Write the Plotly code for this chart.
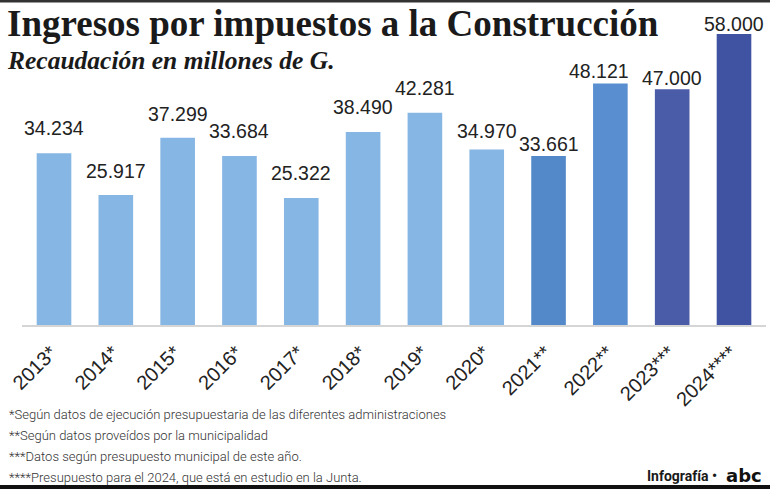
import plotly.graph_objects as go

categories = ["2013*", "2014*", "2015*", "2016*", "2017*", "2018*", "2019*", "2020*",
              "2021**", "2022**", "2023***", "2024****"]
values = [34234, 25917, 37299, 33684, 25322, 38490, 42281, 34970, 33661, 48121, 47000, 58000]
value_labels = ["34.234", "25.917", "37.299", "33.684", "25.322", "38.490", "42.281", "34.970",
                "33.661", "48.121", "47.000", "58.000"]
bar_colors = ["#86B6E3"] * 8 + ["#5389C9", "#598FD0", "#4A5BA8", "#3F53A2"]

title = "Ingresos por impuestos a la Construcción"
subtitle = "Recaudación en millones de G."
footnotes = [
    "*Según datos de ejecución presupuestaria de las diferentes administraciones",
    "**Según datos proveídos por la municipalidad",
    "***Datos según presupuesto municipal de este año.",
    "****Presupuesto para el 2024, que está en estudio en la Junta.",
]

# label placement offsets (pixels), as hand-placed in the original graphic
label_yshift = [12, 11, 11, 12, 12, 12, 12, 6, -1, 0, -2, -3]
label_xshift = [0, 0, 0, 0, 0, 0, 0, 0, 0, -11, 0, 0]

W, H = 770, 489
L, R, T, B = 22, 4, 34, 164
PW, PH = W - L - R, H - T - B


def px(x):
    return (x - L) / PW


def py(y):
    return (H - B - y) / PH


fig = go.Figure()
fig.add_trace(go.Bar(
    x=categories, y=values, marker=dict(color=bar_colors, line=dict(width=0)),
    width=0.56, hoverinfo="skip", cliponaxis=False,
))

annotations = []
for c, v, lab, ys, xs in zip(categories, values, value_labels, label_yshift, label_xshift):
    annotations.append(dict(x=c, y=v, xref="x", yref="y", text=lab, showarrow=False,
                            yanchor="bottom", yshift=ys, xshift=xs,
                            font=dict(family="Liberation Sans", size=19.5, color="#222222")))

annotations.append(dict(x=px(5), y=py(24), xref="paper", yref="paper", text=f"<b>{title}</b>",
                        showarrow=False, xanchor="left", yanchor="middle",
                        font=dict(family="Liberation Serif", size=37, color="#1a1a1a")))
annotations.append(dict(x=px(5), y=py(60), xref="paper", yref="paper", text=f"<b><i>{subtitle}</i></b>",
                        showarrow=False, xanchor="left", yanchor="middle",
                        font=dict(family="Liberation Serif", size=25.5, color="#1a1a1a")))
for i, fn in enumerate(footnotes):
    annotations.append(dict(x=px(7), y=py(414 + 21 * i), xref="paper", yref="paper", text=fn,
                            showarrow=False, xanchor="left", yanchor="middle",
                            font=dict(family="Roboto", size=13, color="#333333", weight=300)))
annotations.append(dict(x=px(719), y=py(476), xref="paper", yref="paper",
                        text="<b>Infografía •</b>",
                        showarrow=False, xanchor="right", yanchor="middle",
                        font=dict(family="Roboto", size=14, color="#1a1a1a")))
annotations.append(dict(x=px(764), y=py(475), xref="paper", yref="paper",
                        text="<b>abc</b>",
                        showarrow=False, xanchor="right", yanchor="middle",
                        font=dict(family="DejaVu Sans", size=18, color="#111111", weight=900)))

shapes = [
    dict(type="rect", xref="paper", yref="paper", x0=px(0), x1=px(W), y0=py(2.5), y1=py(0),
         fillcolor="#333333", line=dict(width=0), layer="above"),
    dict(type="rect", xref="paper", yref="paper", x0=px(0), x1=px(W), y0=py(H), y1=py(485),
         fillcolor="#111111", line=dict(width=0), layer="above"),
]

fig.update_layout(
    width=W, height=H,
    margin=dict(l=L, r=R, t=T, b=B, pad=0),
    paper_bgcolor="white", plot_bgcolor="white",
    showlegend=False,
    bargap=0.44,
    annotations=annotations,
    shapes=shapes,
    xaxis=dict(tickangle=-45, tickfont=dict(family="Liberation Sans", size=20, color="#222222"),
               ticklabelstandoff=6, ticklabelshift=-3,
               showline=True, linecolor="#D5D5D5", linewidth=2, ticks="", showgrid=False,
               fixedrange=True),
    yaxis=dict(range=[0, 58000], visible=False, showgrid=False, fixedrange=True),
)

fig.write_html("out.html", config={"displayModeBar": False},
               post_script="document.body.style.margin='0';document.body.style.overflow='hidden';")
